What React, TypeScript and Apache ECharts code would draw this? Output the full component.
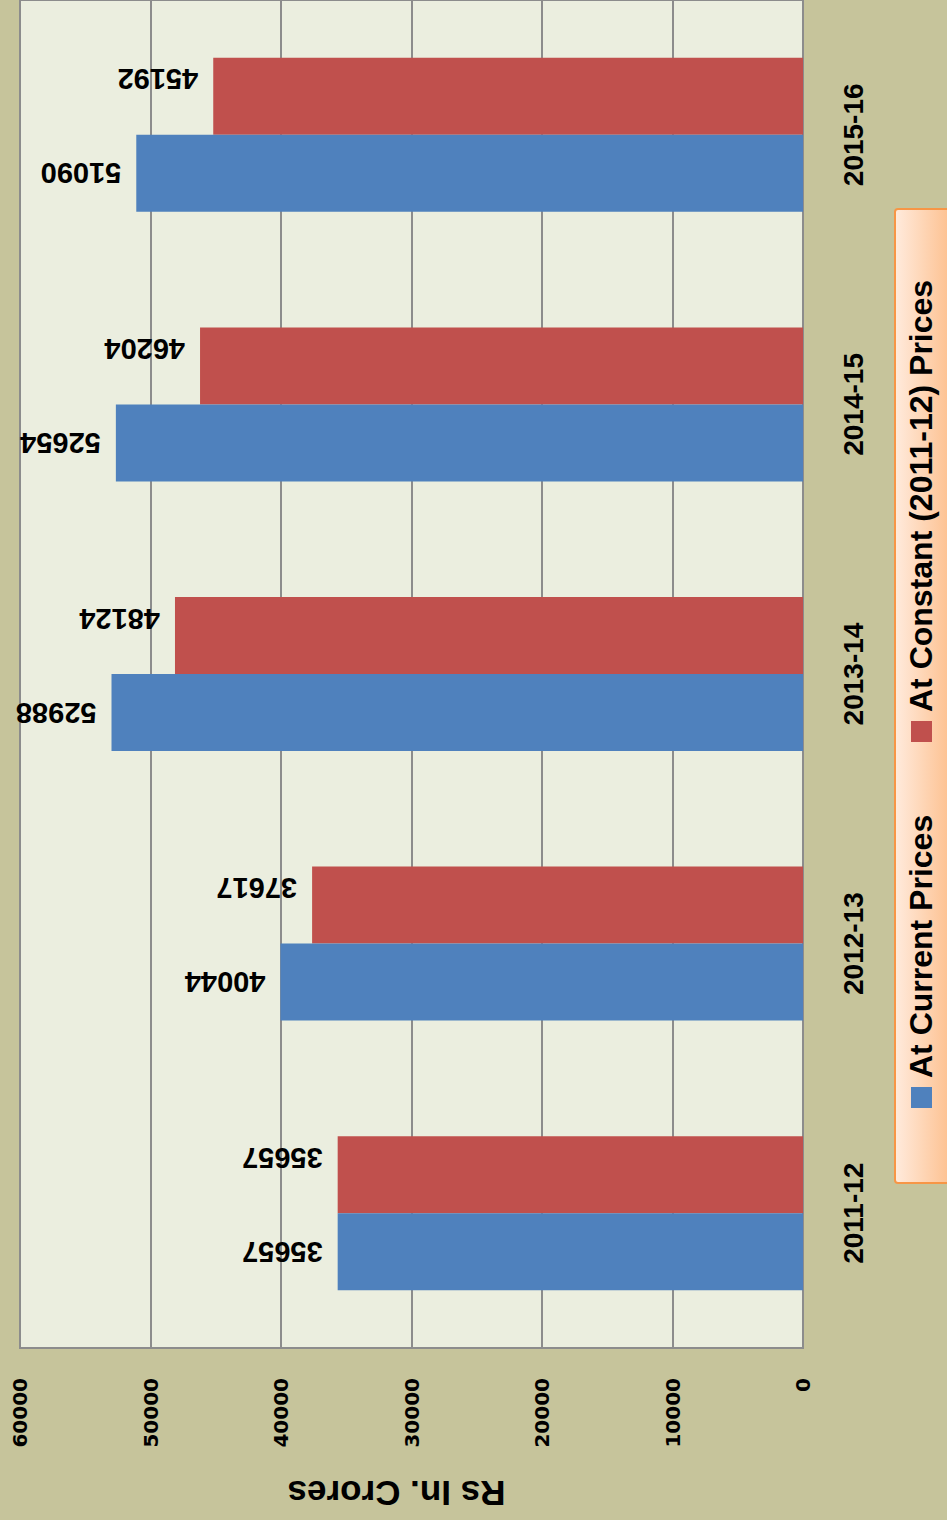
import React, { useEffect, useRef } from "react";
import * as echarts from "echarts";

const categories = ["2011-12", "2012-13", "2013-14", "2014-15", "2015-16"];
const currentPrices = [35657, 40044, 52988, 52654, 51090];
const constantPrices = [35657, 37617, 48124, 46204, 45192];
const seriesNames = ["At Current Prices", "At Constant (2011-12) Prices"];
const axisTitle = "Rs In. Crores";

export default function App() {
  const ref = useRef<HTMLDivElement>(null);
  useEffect(() => {
    if (!ref.current) return;
    const chart = echarts.init(ref.current, undefined, { renderer: "svg" });
    const labelBase = {
      show: true,
      position: "left" as const,
      distance: 15,
      rotate: 180,
      align: "left" as const,
      verticalAlign: "middle" as const,
      color: "#000",
      fontFamily: "Liberation Sans",
      fontWeight: "bold" as const,
      fontSize: 29,
    };
    chart.setOption({
      animation: false,
      backgroundColor: "#C6C49B",
      grid: {
        left: 20,
        right: 144,
        top: 0,
        bottom: 172,
        show: true,
        backgroundColor: "#EBEEDF",
        borderColor: "#8C8C8C",
        borderWidth: 2,
      },
      xAxis: {
        type: "value",
        inverse: true,
        min: 0,
        max: 60000,
        interval: 10000,
        position: "bottom",
        name: axisTitle,
        nameLocation: "middle",
        nameGap: 128,
        nameRotate: 180,
        nameTextStyle: {
          fontFamily: "Liberation Sans",
          fontWeight: "bold",
          fontSize: 35,
          color: "#000",
          padding: [0, 0, 0, 30],
        },
        axisLine: { show: true, lineStyle: { color: "#8C8C8C", width: 2 } },
        axisTick: { show: false },
        splitLine: { show: true, lineStyle: { color: "#8C8C8C", width: 2 } },
        axisLabel: {
          rotate: 90,
          margin: 30,
          color: "#000",
          fontFamily: "DejaVu Sans",
          fontWeight: "bold",
          fontSize: 20,
          formatter: (v: number) => String(v),
        },
      },
      yAxis: {
        type: "category",
        data: categories,
        position: "right",
        axisLine: { show: true, onZero: false, lineStyle: { color: "#8C8C8C", width: 2 } },
        axisTick: { show: false },
        axisLabel: {
          rotate: 90,
          margin: 36,
          color: "#000",
          fontFamily: "Liberation Sans",
          fontWeight: "bold",
          fontSize: 28,
        },
      },
      series: [
        {
          name: seriesNames[1],
          type: "bar",
          data: constantPrices,
          barWidth: 77,
          barGap: "0%",
          itemStyle: { color: "#C0504D" },
          label: { ...labelBase, offset: [0, 17] },
        },
        {
          name: seriesNames[0],
          type: "bar",
          data: currentPrices,
          barWidth: 77,
          barGap: "0%",
          itemStyle: { color: "#4F81BD" },
          label: { ...labelBase },
        },
      ],
      graphic: [
        {
          type: "rect",
          shape: { x: 895, y: 209, width: 60, height: 974, r: 3 },
          style: {
            fill: new echarts.graphic.LinearGradient(0, 0, 1, 0, [
              { offset: 0, color: "#FFEBDD" },
              { offset: 1, color: "#FDBD89" },
            ]),
            stroke: "#F79646",
            lineWidth: 2,
          },
        },
        {
          type: "rect",
          shape: { x: 911, y: 1087, width: 21, height: 21 },
          style: { fill: "#4F81BD" },
        },
        {
          type: "text",
          x: 921,
          y: 1078,
          rotation: Math.PI / 2,
          style: {
            text: seriesNames[0],
            fontFamily: "Liberation Sans",
            fontWeight: "bold",
            fontSize: 32,
            fill: "#000",
            align: "left",
            verticalAlign: "middle",
          },
        },
        {
          type: "rect",
          shape: { x: 911, y: 721, width: 21, height: 21 },
          style: { fill: "#C0504D" },
        },
        {
          type: "text",
          x: 921,
          y: 712,
          rotation: Math.PI / 2,
          style: {
            text: seriesNames[1],
            fontFamily: "Liberation Sans",
            fontWeight: "bold",
            fontSize: 32,
            fill: "#000",
            align: "left",
            verticalAlign: "middle",
          },
        },
      ],
    });
    return () => chart.dispose();
  }, []);
  return (
    <div
      ref={ref}
      style={{ position: "absolute", left: 0, top: 0, width: 947, height: 1520 }}
    />
  );
}
